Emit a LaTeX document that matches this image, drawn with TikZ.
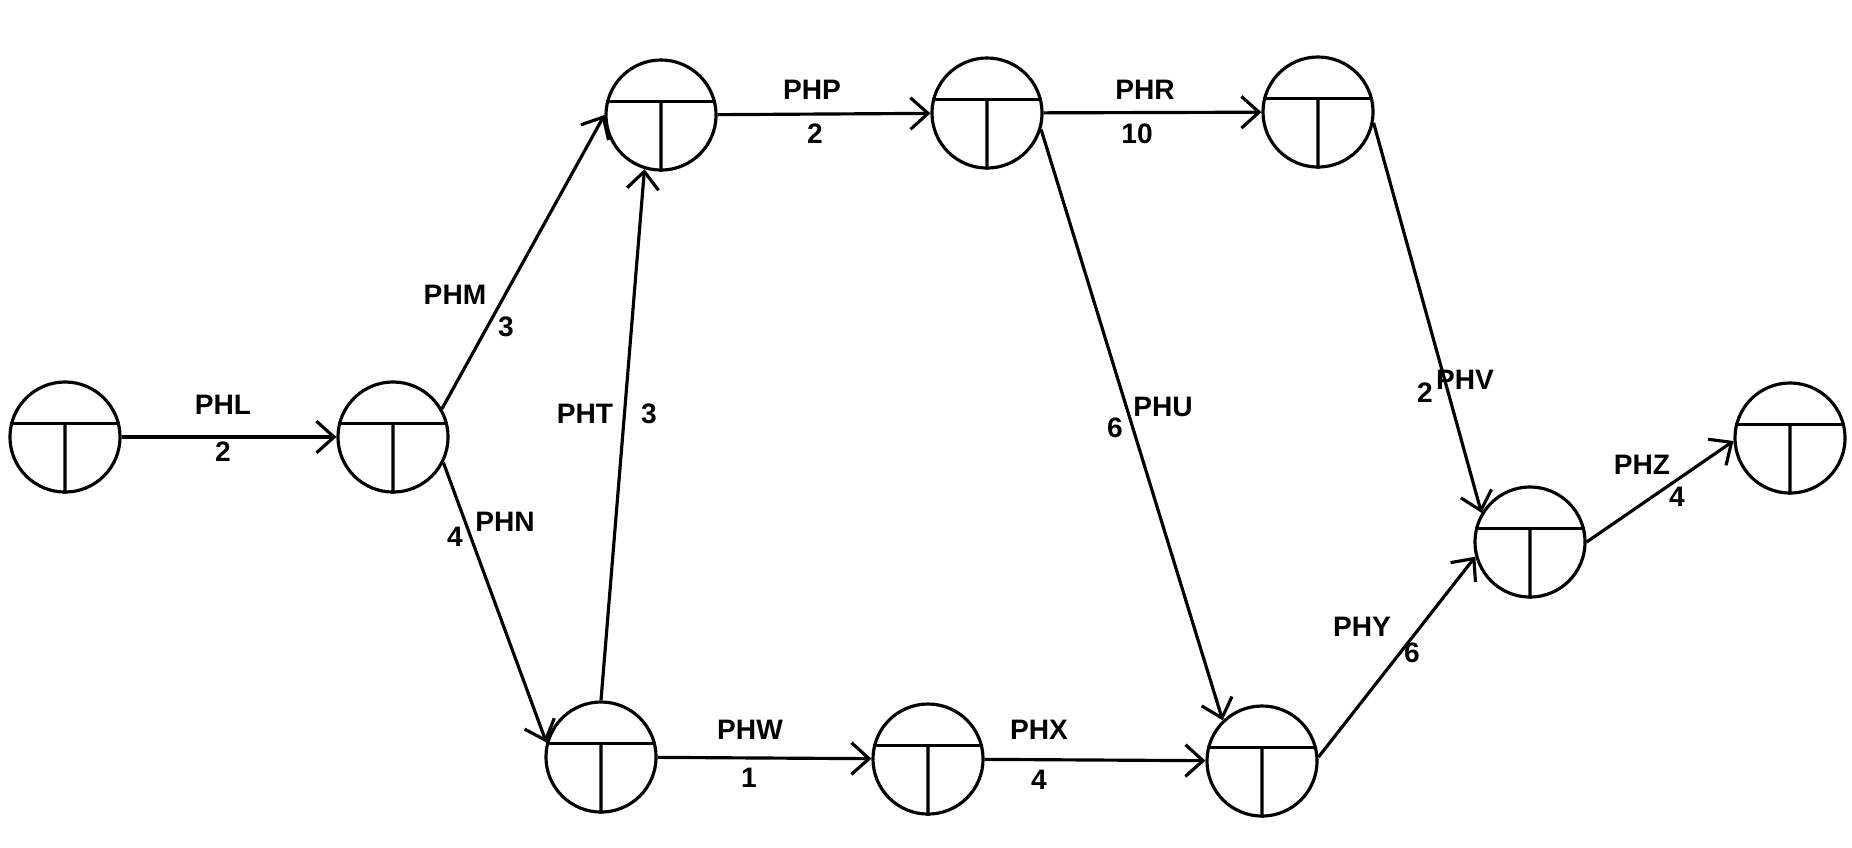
\documentclass[tikz,border=0pt]{standalone}
\usepackage{fontspec}
\setmainfont{Liberation Sans}
\usetikzlibrary{arrows.meta,calc}

\begin{document}
\begin{tikzpicture}[
  x=0.01cm, y=-0.01cm,
  >={Straight Barb[length=5pt,width=9pt]},
  event/.style={
    draw,
    circle,
    line width=0.9pt,
    minimum size=1.1cm,
    inner sep=0pt
  },
  act/.style={->, line width=0.9pt},
  lbl/.style={font=\fontsize{8}{9}\selectfont\bfseries, inner sep=0pt}
]
  \useasboundingbox (0,0) rectangle (1852,847);

  % Events
  \node[event] (e1) at (65,437) {};
  \node[event] (e2) at (393,437) {};
  \node[event] (e3) at (661,115) {};
  \node[event] (e4) at (987,113) {};
  \node[event] (e5) at (1318,112) {};
  \node[event] (e6) at (601,757) {};
  \node[event] (e7) at (928,759) {};
  \node[event] (e8) at (1262,761) {};
  \node[event] (e9) at (1530,542) {};
  \node[event] (e10) at (1790,438) {};

  % Dividers inside each event
  \foreach \n in {1,...,10} {
    \draw[line width=0.9pt] (e\n.166) -- (e\n.14);
    \draw[line width=0.9pt] ($(e\n.166)!0.5!(e\n.14)$) -- (e\n.south);
  }

  % Activities
  \draw[act] (e1) -- (e2);
  \draw[act] (e2.30) -- (e3.180);
  \draw[act] (e2.-27) -- (e6.165);
  \draw[act] (e6.north) -- (e3.253);
  \draw[act] (e3) -- (e4);
  \draw[act] (e4) -- (e5);
  \draw[act] (e4.-17) -- (e8.134);
  \draw[act] (e5.-11) -- (e9.149);
  \draw[act] (e6) -- (e7);
  \draw[act] (e7) -- (e8);
  \draw[act] (e8.4) -- (e9.195);
  \draw[act] (e9.0) -- (e10.183);

  % Activity names and durations
  \node[lbl] (nPHL) at (223,405) {PHL};
  \node[lbl] (dPHL) at (223,452) {2};
  \node[lbl] (nPHM) at (455,295) {PHM};
  \node[lbl] (dPHM) at (506,327) {3};
  \node[lbl] (nPHN) at (505,522) {PHN};
  \node[lbl] (dPHN) at (455,537) {4};
  \node[lbl] (nPHT) at (585,414) {PHT};
  \node[lbl] (dPHT) at (649,414) {3};
  \node[lbl] (nPHP) at (812,90) {PHP};
  \node[lbl] (dPHP) at (815,134) {2};
  \node[lbl] (nPHR) at (1145,90) {PHR};
  \node[lbl] (dPHR) at (1137,134) {10};
  \node[lbl] (nPHU) at (1163,407) {PHU};
  \node[lbl] (dPHU) at (1115,428) {6};
  \node[lbl] (nPHV) at (1465,380) {PHV};
  \node[lbl] (dPHV) at (1425,393) {2};
  \node[lbl] (nPHW) at (750,730) {PHW};
  \node[lbl] (dPHW) at (749,778) {1};
  \node[lbl] (nPHX) at (1039,730) {PHX};
  \node[lbl] (dPHX) at (1039,780) {4};
  \node[lbl] (nPHY) at (1362,627) {PHY};
  \node[lbl] (dPHY) at (1412,653) {6};
  \node[lbl] (nPHZ) at (1642,465) {PHZ};
  \node[lbl] (dPHZ) at (1677,497) {4};

\end{tikzpicture}
\end{document}
